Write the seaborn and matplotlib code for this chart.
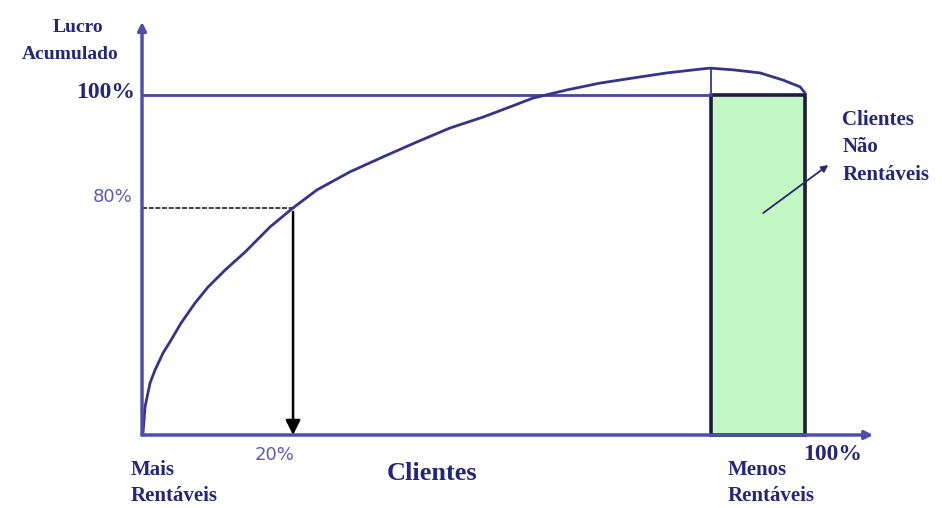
import numpy as np
import pandas as pd
import matplotlib
matplotlib.use("Agg")
import matplotlib.pyplot as plt
import seaborn as sns

# cumulative profit curve (schematic), x = % of customers, y = % of accumulated profit
clientes_pct = [0, 0.15, 0.45, 1.21, 1.96, 3.17, 4.37, 5.88, 7.99, 9.95, 12.52, 15.54,
                19.31, 22.78, 26.40, 31.37, 36.35, 41.48, 46.46, 51.43, 55.51, 58.97,
                64.10, 69.08, 74.06, 79.19, 84.16, 85.67, 89.14, 93.21, 96.68, 99.25, 100]
lucro_pct = [0, 0.6, 8.2, 15.3, 19.1, 24.1, 27.9, 32.9, 38.8, 43.5, 48.5, 53.8,
             61.2, 66.8, 72.1, 77.4, 81.8, 86.2, 90.3, 93.5, 96.5, 99.1,
             101.5, 103.5, 105.0, 106.5, 107.6, 107.9, 107.4, 106.5, 104.4, 102.4, 100.6]

# unprofitable block (last customers)
bloco_inicio = 85.8
bloco_fim = 100
topo = 100

# 20% point marked on the curve
ponto_x = 22.78
ponto_y = 66.8

TXT = "#25257a"
TXT_LIGHT = "#5c5cb4"
AXIS = "#4e4eae"
CURVE = "#34348a"
GREEN = "#c2f6c2"

sns.set_theme(style="white")
plt.rcParams['font.family'] = ['DejaVu Sans']

fig = plt.figure(figsize=(9.42, 5.08), dpi=100)
ax = fig.add_axes([0, 0, 1, 1])
ax.set_xlim(-21.42, 120.66)
ax.set_ylim(-21.47, 127.94)
ax.axis('off')

# green block
ax.bar(bloco_inicio, topo, width=bloco_fim - bloco_inicio, align='edge',
       color=GREEN, edgecolor="#1c1c3c", linewidth=2.6, zorder=2)

# 100% line and divider above it
ax.plot([0, bloco_inicio], [topo, topo], color="#4444a4", lw=2, zorder=3)
ax.plot([bloco_inicio, bloco_inicio], [topo, max(lucro_pct)], color="#4444a4", lw=1.4, zorder=3)

# curve
df = pd.DataFrame({"clientes": clientes_pct, "lucro": lucro_pct})
sns.lineplot(data=df, x="clientes", y="lucro", ax=ax, color=CURVE, lw=2,
             sort=False, estimator=None, zorder=4)

# axes with arrows
ax.annotate("", xy=(0, 121.5), xytext=(0, 0),
            arrowprops=dict(arrowstyle="-|>", color=AXIS, lw=2.5, mutation_scale=12,
                            shrinkA=0, shrinkB=0), zorder=5)
ax.annotate("", xy=(110.3, 0), xytext=(0, 0),
            arrowprops=dict(arrowstyle="-|>", color=AXIS, lw=2.5, mutation_scale=12,
                            shrinkA=0, shrinkB=0), zorder=5)

# dotted guide and vertical arrow at 20%
ax.plot([0, ponto_x], [ponto_y, ponto_y], color="#222222", lw=1.2,
        dashes=(3, 1), zorder=3)
ax.annotate("", xy=(ponto_x, 0), xytext=(ponto_x, ponto_y - 1.2),
            arrowprops=dict(arrowstyle="-|>", color="black", lw=1.8, mutation_scale=22,
                            shrinkA=0, shrinkB=0), zorder=6)

# pointer from the block to its label
ax.annotate("", xy=(103.5, 79.4), xytext=(93.7, 65.3),
            arrowprops=dict(arrowstyle="-|>", color="#2a2a6a", lw=1.3, mutation_scale=10,
                            shrinkA=0, shrinkB=0), zorder=6)

serif = dict(family="Liberation Serif", weight="bold", color=TXT)

ax.text(-9.65, 118.5, "Lucro", ha="center", va="baseline", fontsize=14, **serif)
ax.text(-10.86, 110.6, "Acumulado", ha="center", va="baseline", fontsize=14, **serif)
ax.text(-1.06, 99.1, "100%", ha="right", va="baseline", fontsize=17, **serif)
ax.text(-1.51, 68.5, "80%", ha="right", va="baseline", fontsize=13, color=TXT_LIGHT)
ax.text(20.06, -7.35, "20%", ha="center", va="baseline", fontsize=13, color=TXT_LIGHT)

ax.text(-1.66, -11.76, "Mais", ha="left", va="baseline", fontsize=15, **serif)
ax.text(-1.66, -19.4, "Rentáveis", ha="left", va="baseline", fontsize=15, **serif)
ax.text(43.74, -13.24, "Clientes", ha="center", va="baseline", fontsize=19, **serif)
ax.text(88.4, -11.76, "Menos", ha="left", va="baseline", fontsize=15, **serif)
ax.text(88.4, -19.4, "Rentáveis", ha="left", va="baseline", fontsize=15, **serif)
ax.text(99.7, -7.35, "100%", ha="left", va="baseline", fontsize=17, **serif)

ax.text(105.6, 91.2, "Clientes", ha="left", va="baseline", fontsize=15, **serif)
ax.text(105.6, 83.2, "Não", ha="left", va="baseline", fontsize=15, **serif)
ax.text(105.6, 75.0, "Rentáveis", ha="left", va="baseline", fontsize=15, **serif)

fig.savefig("out.png", dpi=100)
